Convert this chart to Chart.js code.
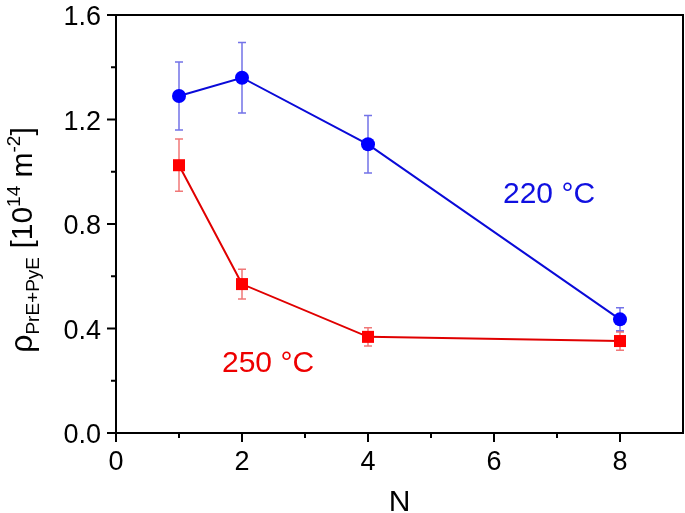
<!DOCTYPE html>
<html>
<head>
<meta charset="utf-8">
<script src="https://cdn.jsdelivr.net/npm/chart.js@4.4.0/dist/chart.umd.min.js"></script>
<style>
html,body{margin:0;padding:0;background:#fff;}
#c{display:block;}
</style>
</head>
<body>
<canvas id="c" width="685" height="513"></canvas>
<script>

// data
const N = [1, 2, 4, 8];
const rho220 = [1.29, 1.36, 1.105, 0.435];
const err220 = [0.13, 0.135, 0.11, 0.044];
const rho250 = [1.025, 0.57, 0.368, 0.352];
const err250 = [0.10, 0.057, 0.035, 0.035];

const xTicks = [0, 2, 4, 6, 8];
const xMinor = [1, 3, 5, 7];
const yTicks = [0, 0.4, 0.8, 1.2, 1.6];
const yMinor = [0.2, 0.6, 1.0, 1.4];

const FONT = "'Liberation Sans', Arial, sans-serif";

function pts(xs, ys){
return xs.map((x,i)=>({x:x, y:ys[i]}));
}

// error bars, frame, ticks, titles
const extras = {
id:'extras',
beforeDatasetsDraw(chart){
const ctx = chart.ctx;
const xs = chart.scales.x, ys = chart.scales.y;
const sets = [
{y:rho220, e:err220, c:'rgba(40,40,220,0.65)'},
{y:rho250, e:err250, c:'rgba(230,30,30,0.6)'}
];
ctx.save();
ctx.lineWidth = 1.5;
sets.forEach(s=>{
ctx.strokeStyle = s.c;
N.forEach((n,i)=>{
const px = xs.getPixelForValue(n);
const top = ys.getPixelForValue(s.y[i]+s.e[i]);
const bot = ys.getPixelForValue(s.y[i]-s.e[i]);
ctx.beginPath();
ctx.moveTo(px, top); ctx.lineTo(px, bot);
ctx.moveTo(px-4, top); ctx.lineTo(px+4, top);
ctx.moveTo(px-4, bot); ctx.lineTo(px+4, bot);
ctx.stroke();
});
});
ctx.restore();
},
afterDraw(chart){
const ctx = chart.ctx;
const a = chart.chartArea;
const xs = chart.scales.x, ys = chart.scales.y;
ctx.save();
// frame
ctx.strokeStyle = '#000';
ctx.lineWidth = 2;
ctx.strokeRect(a.left, a.top, a.right-a.left, a.bottom-a.top);
// ticks
ctx.beginPath();
xTicks.forEach(v=>{const p=xs.getPixelForValue(v); ctx.moveTo(p,a.bottom); ctx.lineTo(p,a.bottom+9);});
xMinor.forEach(v=>{const p=xs.getPixelForValue(v); ctx.moveTo(p,a.bottom); ctx.lineTo(p,a.bottom+5);});
yTicks.forEach(v=>{const p=ys.getPixelForValue(v); ctx.moveTo(a.left,p); ctx.lineTo(a.left-9,p);});
yMinor.forEach(v=>{const p=ys.getPixelForValue(v); ctx.moveTo(a.left,p); ctx.lineTo(a.left-5,p);});
ctx.stroke();

// tick labels
ctx.fillStyle = '#000';
ctx.font = '27px ' + FONT;
ctx.textAlign = 'center';
ctx.textBaseline = 'alphabetic';
xTicks.forEach(v=>ctx.fillText(String(v), xs.getPixelForValue(v), a.bottom+37));
ctx.textAlign = 'right';
yTicks.forEach(v=>ctx.fillText(v.toFixed(1), a.left-15, ys.getPixelForValue(v)+10));

// x title
ctx.font = '30px ' + FONT;
ctx.textAlign = 'center';
ctx.fillText('N', (a.left+a.right)/2, 511);

// y title with sub/superscripts
const parts = [
{t:'\u03C1', s:32, dy:0},
{t:'PrE+PyE', s:19, dy:7},
{t:' [10', s:30, dy:0},
{t:'14', s:19, dy:-12},
{t:' m', s:30, dy:0},
{t:'-2', s:19, dy:-12},
{t:']', s:30, dy:0}
];
let w = 0;
parts.forEach(p=>{ctx.font = p.s+'px '+FONT; p.w = ctx.measureText(p.t).width; w += p.w;});
ctx.translate(32, 240);
ctx.rotate(-Math.PI/2);
ctx.textAlign = 'left';
let x = -w/2;
parts.forEach(p=>{
ctx.font = p.s+'px '+FONT;
ctx.fillText(p.t, x, p.dy);
x += p.w;
});
ctx.restore();

// series labels
ctx.save();
ctx.font = '30px ' + FONT;
ctx.textAlign = 'left';
ctx.textBaseline = 'alphabetic';
ctx.fillStyle = '#1010e0';
ctx.fillText('220 \u00B0C', 503, 203);
ctx.fillStyle = '#ee0000';
ctx.fillText('250 \u00B0C', 222, 372);
ctx.restore();
}
};

new Chart(document.getElementById('c'), {
type:'scatter',
data:{
datasets:[
{
label:'220 °C',
data:pts(N, rho220),
showLine:true,
borderColor:'#0a0ad8',
borderWidth:2,
backgroundColor:'#0000ff',
pointStyle:'circle',
pointRadius:7,
pointBorderWidth:0,
pointHoverRadius:7
},
{
label:'250 °C',
data:pts(N, rho250),
showLine:true,
borderColor:'#e00000',
borderWidth:2,
backgroundColor:'#ff0000',
pointStyle:'rect',
pointRadius:8.5,
pointBorderWidth:0,
pointHoverRadius:8.5
}
]
},
options:{
responsive:false,
animation:false,
layout:{autoPadding:false, padding:{top:15, right:2, left:0, bottom:0}},
plugins:{legend:{display:false}, tooltip:{enabled:false}},
scales:{
x:{
type:'linear', min:0, max:9,
afterBuildTicks(s){ s.ticks = xTicks.map(v=>({value:v})); },
afterFit(s){ s.height = 80; },
grid:{display:false, drawTicks:false},
border:{display:false},
ticks:{display:false}
},
y:{
type:'linear', min:0, max:1.6,
afterBuildTicks(s){ s.ticks = yTicks.map(v=>({value:v})); },
afterFit(s){ s.width = 116; },
grid:{display:false, drawTicks:false},
border:{display:false},
ticks:{display:false}
}
}
},
plugins:[extras]
});
</script>
</body>
</html>
